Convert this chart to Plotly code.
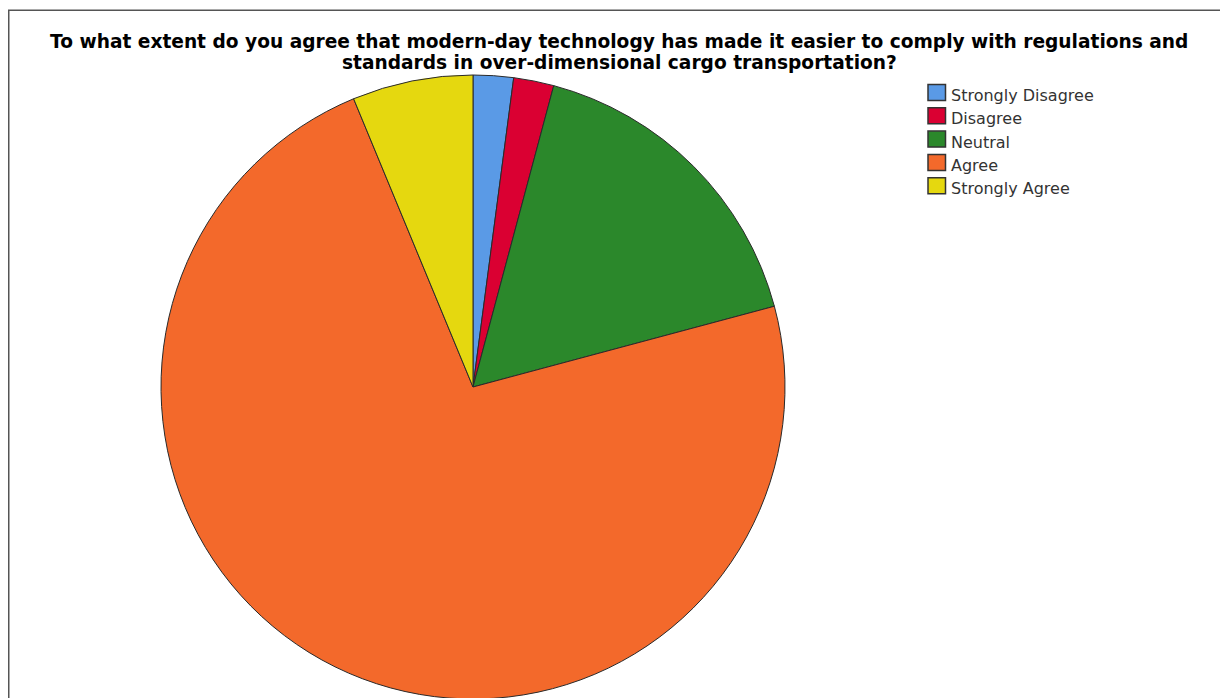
import plotly.graph_objects as go

categories = ["Strongly Disagree", "Disagree", "Neutral", "Agree", "Strongly Agree"]
counts = [1, 1, 8, 35, 3]
colors = ["#5A9AE6", "#DA0032", "#2B882B", "#F3692B", "#E5D80F"]
title_lines = [
    "To what extent do you agree that modern-day technology has made it easier to comply with regulations and",
    "standards in over-dimensional cargo transportation?",
]

W, H = 1228, 698
OFF = 8  # page body margin offset


def px(x):
    return (x - OFF) / W


def py(y):
    return 1 - (y - OFF) / H


cx, cy, r = 473, 387, 312

fig = go.Figure(go.Pie(
    labels=categories,
    values=counts,
    sort=False,
    direction="clockwise",
    rotation=0,
    textinfo="none",
    hoverinfo="label+value+percent",
    showlegend=False,
    marker=dict(colors=colors, line=dict(color="#2a2a2a", width=1)),
    domain=dict(x=[px(cx - r), px(cx + r)],
                y=[py(cy + r), py(cy - r)]),
))

annotations = []
for i, line in enumerate(title_lines):
    annotations.append(dict(
        text="<b>" + line + "</b>",
        x=px(619), y=py(41 + 22 * i), xref="paper", yref="paper",
        xanchor="center", yanchor="middle", showarrow=False,
        font=dict(size=18.6, color="black", family="DejaVu Sans, sans-serif"),
    ))

shapes = [dict(
    type="rect", xref="paper", yref="paper",
    x0=px(8.75), x1=1.2, y0=-0.2, y1=py(10.25),
    line=dict(color="#555555", width=1.5),
)]

row0, step = 92.5, 23.3
for i, (lab, col) in enumerate(zip(categories, colors)):
    yc = row0 + step * i
    shapes.append(dict(
        type="rect", xref="paper", yref="paper",
        x0=px(928), x1=px(945.5), y0=py(yc + 8), y1=py(yc - 8),
        fillcolor=col, line=dict(color="#333333", width=1.5),
    ))
    annotations.append(dict(
        text=lab, x=px(949), y=py(yc + 3), xref="paper", yref="paper",
        xanchor="left", yanchor="middle", showarrow=False,
        font=dict(size=16, color="#333333", family="DejaVu Sans, sans-serif"),
    ))

fig.update_layout(
    width=W, height=H,
    margin=dict(l=0, r=0, t=0, b=0),
    paper_bgcolor="white",
    plot_bgcolor="white",
    showlegend=False,
    annotations=annotations,
    shapes=shapes,
)

fig.write_html("out.html")
